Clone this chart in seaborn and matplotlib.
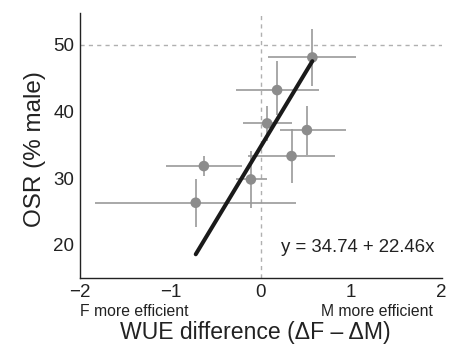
import matplotlib
matplotlib.use("Agg")
import matplotlib.pyplot as plt
import seaborn as sns
import pandas as pd
import numpy as np

sns.set_theme(style="white")
plt.rcParams['font.family'] = ['Liberation Sans', 'DejaVu Sans']

wue = [0.57, 0.18, 0.07, 0.51, 0.34, -0.63, -0.11, -0.72]
osr = [48.1, 43.2, 38.2, 37.2, 33.3, 31.8, 29.8, 26.3]
x_lo = [0.08, -0.28, -0.20, 0.21, -0.14, -1.05, -0.28, -1.83]
x_hi = [1.05, 0.64, 0.34, 0.94, 0.82, -0.21, 0.07, 0.39]
y_lo = [43.8, 39.4, 35.6, 33.4, 29.3, 30.3, 25.5, 22.7]
y_hi = [52.3, 47.6, 40.8, 40.8, 37.3, 33.3, 34.0, 29.8]
intercept = 34.74
slope = 22.46
xticks = [-2, -1, 0, 1, 2]
xticklabels = ["\u22122", "\u22121", "0", "1", "2"]
yticks = [20, 30, 40, 50]

df = pd.DataFrame({"wue": wue, "osr": osr})

fig = plt.figure(figsize=(4.6, 3.45), dpi=100)
ax = fig.add_axes([0.174, 0.194, 0.786, 0.769])

ax.axvline(0, color="#b0b0b0", lw=1, ls=(0, (3, 3)), zorder=0)
ax.axhline(50, color="#b0b0b0", lw=1, ls=(0, (3, 3)), zorder=0)

xerr = np.array([np.array(wue) - np.array(x_lo), np.array(x_hi) - np.array(wue)])
yerr = np.array([np.array(osr) - np.array(y_lo), np.array(y_hi) - np.array(osr)])
ax.errorbar(wue, osr, xerr=xerr, yerr=yerr, fmt="none", ecolor="#999999", elinewidth=1.2, capsize=0, zorder=1)
sns.scatterplot(data=df, x="wue", y="osr", ax=ax, color="#8c8c8c", s=58, edgecolor="none", zorder=2)

fx = np.array([min(wue), max(wue)])
fit = pd.DataFrame({"x": fx, "y": intercept + slope * fx})
sns.lineplot(data=fit, x="x", y="y", ax=ax, color="#1a1a1a", lw=2.9, zorder=3)

ax.set_xlim(-2, 2)
ax.set_ylim(15, 54.8)
ax.set_xticks(xticks)
ax.set_xticklabels(xticklabels)
ax.set_yticks(yticks)
sns.despine(ax=ax)
for s in ["left", "bottom"]:
    ax.spines[s].set_color("#222222")
    ax.spines[s].set_linewidth(1)
ax.tick_params(axis="x", direction="in", length=3, width=1, color="#222222", labelsize=13.5, pad=4, labelcolor="#222222")
ax.tick_params(axis="y", direction="out", length=3, width=1, color="#222222", labelsize=13.5, pad=1, labelcolor="#222222")

ax.set_xlabel("")
ax.set_ylabel("")
fig.text(0.076, 0.568, "OSR (% male)", rotation=90, ha="center", va="center", fontsize=17.5, color="#222222")
fig.text(0.555, 0.018, "WUE difference (\u0394F \u2013 \u0394M)", ha="center", va="baseline", fontsize=16.6, color="#222222")
fig.text(0.174, 0.084, "F more efficient", ha="left", va="baseline", fontsize=11.3, color="#222222")
fig.text(0.941, 0.084, "M more efficient", ha="right", va="baseline", fontsize=11.3, color="#222222")
ax.text(1.92, 18.9, "y = 34.74 + 22.46x", ha="right", va="baseline", fontsize=13.4, color="#222222")

fig.savefig("out.png", dpi=100)
